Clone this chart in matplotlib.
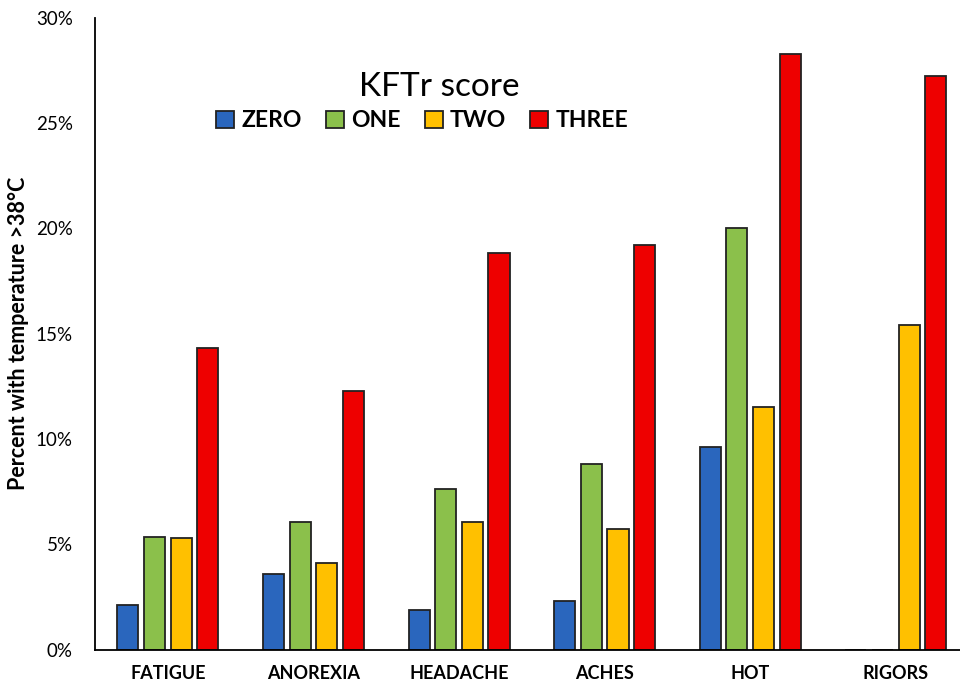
import numpy as np
import matplotlib.pyplot as plt

# --- データ ---
categories = ['FATIGUE', 'ANOREXIA', 'HEADACHE', 'ACHES', 'HOT', 'RIGORS']
series_names = ['ZERO', 'ONE', 'TWO', 'THREE']
zero = [2.1, 3.6, 1.9, 2.3, 9.6, 0.0]
one = [5.35, 6.05, 7.6, 8.8, 20.0, 0.0]
two = [5.3, 4.1, 6.05, 5.7, 11.5, 15.4]
three = [14.3, 12.3, 18.85, 19.2, 28.3, 27.25]
colors = ['#2A66BD', '#8BC04B', '#FFC000', '#EE0000']
y_ticks = [0, 5, 10, 15, 20, 25, 30]

plt.rcParams['font.family'] = ['Lato', 'DejaVu Sans']

fig = plt.figure(figsize=(9.6, 6.83), dpi=100)
ax = fig.add_axes([0.099, 0.049, 0.91, 0.925])

x = np.arange(len(categories))
width = 0.145
step = 0.183
values = [zero, one, two, three]
for i, (name, vals, c) in enumerate(zip(series_names, values, colors)):
    ax.bar(x + (i - 1.5) * step, vals, width, color=c, edgecolor='#222222',
           linewidth=1.3, label=name)

ax.set_xlim(-0.5, 5.5)
ax.set_ylim(0, 30)
ax.set_yticks(y_ticks)
ax.set_yticklabels([f'{t}%' for t in y_ticks], fontsize=13.5)
ax.set_xticks(x)
ax.set_xticklabels(categories, fontsize=13, fontweight='bold')
ax.tick_params(length=0)
ax.tick_params(axis='x', pad=11)
ax.tick_params(axis='y', pad=16)
for s in ['top', 'right']:
    ax.spines[s].set_visible(False)
ax.spines['left'].set_linewidth(1.3)
ax.spines['bottom'].set_linewidth(1.3)

ax.set_ylabel('Percent with temperature >38°C', fontsize=15.5, fontweight='bold', labelpad=5)

# 凡例（タイトルは別テキストで配置）
ax.legend(loc='center left', bbox_to_anchor=(0.115, 0.837), ncol=4, frameon=False,
          prop={'weight': 'bold', 'size': 16.5},
          handlelength=0.8, handleheight=0.8, handletextpad=0.3, columnspacing=1.05)
fig.text(0.458, 0.872, 'KFTr score', fontsize=24, ha='center', va='center')

plt.savefig('out.png', dpi=100)
